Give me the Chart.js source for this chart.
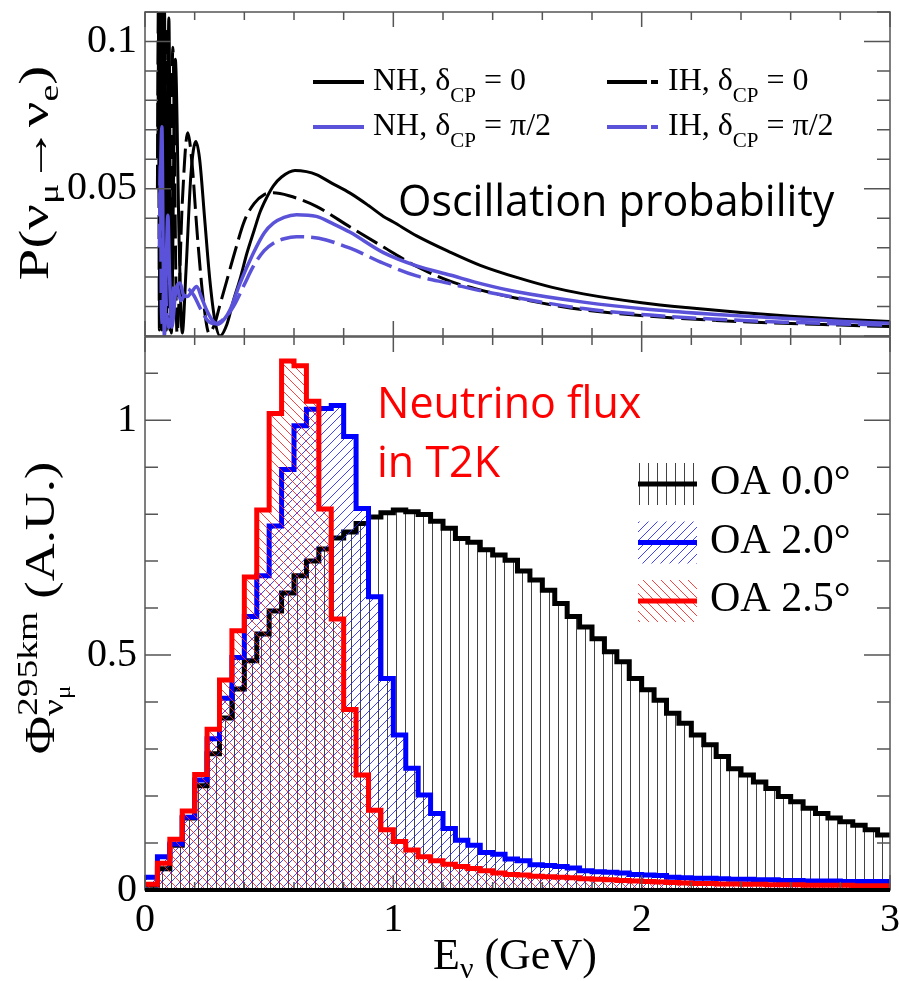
<!DOCTYPE html>
<html>
<head>
<meta charset="utf-8">
<title>T2K: oscillation probability and off-axis flux</title>
<script src="https://cdn.jsdelivr.net/npm/chart.js@4.4.1/dist/chart.umd.min.js"></script>
<style>
  html, body { margin: 0; background: #fff; }
  #wrap { position: relative; width: 899px; height: 981px; background: #fff; }
  #wrap canvas { position: absolute; left: 0; top: 0; }
  .warm { position: absolute; left: -9999px; top: 0; }
</style>
</head>
<body>
<div id="wrap">
  <canvas id="probChart" width="899" height="981"></canvas>
  <canvas id="fluxChart" width="899" height="981"></canvas>
</div>
<span class="warm" style="font-family: 'Liberation Serif'">0.05 νμ δ</span>
<span class="warm" style="font-family: 'Open Sans'">Oscillation</span>
<script>
const SERIF = '"Liberation Serif", "Times New Roman", Times, serif';
const SANS = '"Open Sans", "Noto Sans", sans-serif';

// P(numu -> nue) at 295 km, points are [E (GeV), P]
const nhZero = [
  [0.052, 0.060], [0.056, 0.115], [0.060, 0.004], [0.066, 0.116], [0.071, 0.003],
  [0.078, 0.114], [0.086, 0.002], [0.096, 0.108], [0.106, 0.001], [0.122, 0.094],
  [0.138, 0.030], [0.150, 0.001], [0.165, 0.022], [0.185, 0.055], [0.205, 0.066],
  [0.220, 0.060], [0.240, 0.040], [0.260, 0.020], [0.280, 0.006], [0.302, 0.000],
  [0.330, 0.004], [0.356, 0.012], [0.385, 0.020], [0.410, 0.028], [0.440, 0.036],
  [0.463, 0.042], [0.490, 0.047], [0.517, 0.051], [0.550, 0.054], [0.604, 0.0562],
  [0.650, 0.0558], [0.690, 0.0548], [0.750, 0.0520], [0.826, 0.0485], [0.900, 0.0443],
  [0.960, 0.0406], [1.000, 0.0387], [1.094, 0.0340], [1.228, 0.0285], [1.350, 0.0240],
  [1.500, 0.0198], [1.640, 0.0165], [1.765, 0.0143], [2.000, 0.0113], [2.200, 0.0095],
  [2.400, 0.0080], [2.600, 0.0067], [2.800, 0.0057], [3.000, 0.0049]
];
const ihZero = [
  [0.050, 0.050], [0.054, 0.114], [0.058, 0.002], [0.063, 0.117], [0.068, 0.002],
  [0.074, 0.110], [0.080, 0.002], [0.090, 0.104], [0.100, 0.002], [0.112, 0.098],
  [0.129, 0.001], [0.150, 0.045], [0.172, 0.069], [0.190, 0.058], [0.210, 0.035],
  [0.235, 0.012], [0.258, 0.001], [0.280, 0.004], [0.300, 0.010], [0.330, 0.019],
  [0.360, 0.028], [0.400, 0.039], [0.440, 0.045], [0.480, 0.048], [0.516, 0.0486],
  [0.580, 0.0476], [0.690, 0.0440], [0.826, 0.0370], [0.960, 0.0302], [1.094, 0.0236],
  [1.228, 0.0186], [1.360, 0.0154], [1.497, 0.0128], [1.765, 0.0089], [2.034, 0.0067],
  [2.300, 0.0053], [2.570, 0.0043], [2.800, 0.0037], [3.000, 0.0032]
];
const nhHalfPi = [
  [0.060, 0.045], [0.068, 0.071], [0.073, 0.030], [0.078, 0.000], [0.085, 0.022],
  [0.092, 0.041], [0.099, 0.020], [0.108, 0.003], [0.125, 0.016], [0.141, 0.018],
  [0.155, 0.014], [0.170, 0.0134], [0.188, 0.0150], [0.208, 0.0168], [0.228, 0.0130],
  [0.248, 0.0088], [0.270, 0.0055], [0.295, 0.0040], [0.320, 0.0058], [0.342, 0.0088],
  [0.383, 0.0180], [0.436, 0.0281], [0.480, 0.0350], [0.517, 0.0383], [0.560, 0.0403],
  [0.610, 0.0412], [0.690, 0.0406], [0.760, 0.0380], [0.826, 0.0352], [0.960, 0.0283],
  [1.094, 0.0238], [1.228, 0.0207], [1.360, 0.0176], [1.497, 0.0150], [1.765, 0.0115],
  [2.034, 0.0090], [2.300, 0.0073], [2.570, 0.0060], [2.800, 0.0050], [3.000, 0.0043]
];
const ihHalfPi = [
  [0.058, 0.030], [0.062, 0.058], [0.066, 0.010], [0.071, 0.004], [0.078, 0.028],
  [0.086, 0.010], [0.096, 0.003], [0.110, 0.014], [0.125, 0.018], [0.145, 0.012],
  [0.170, 0.016], [0.195, 0.014], [0.225, 0.009], [0.255, 0.005], [0.285, 0.0042],
  [0.320, 0.0060], [0.356, 0.0100], [0.400, 0.0175], [0.436, 0.0236], [0.480, 0.0290],
  [0.517, 0.0315], [0.560, 0.0330], [0.610, 0.0337], [0.700, 0.0332], [0.826, 0.0298],
  [0.960, 0.0247], [1.094, 0.0204], [1.228, 0.0178], [1.360, 0.0152], [1.497, 0.0130],
  [1.765, 0.0093], [2.034, 0.0071], [2.300, 0.0057], [2.570, 0.0047], [2.800, 0.0041],
  [3.000, 0.0037]
];
const probHier = ['NH', 'IH', 'NH', 'IH'];
const probCP = ['0', '0', 'π/2', 'π/2'];

// numu flux at Super-K, 60 bins of 0.05 GeV over 0-3 GeV
const fluxRange = [0, 3];
const oa00 = [
  0.010, 0.045, 0.095, 0.153, 0.222, 0.290, 0.366, 0.428, 0.488, 0.545,
  0.594, 0.632, 0.669, 0.700, 0.726, 0.749, 0.762, 0.780, 0.794, 0.803,
  0.809, 0.805, 0.799, 0.785, 0.770, 0.748, 0.740, 0.724, 0.713, 0.702,
  0.679, 0.660, 0.638, 0.610, 0.582, 0.560, 0.535, 0.507, 0.486, 0.450,
  0.426, 0.404, 0.376, 0.355, 0.330, 0.309, 0.284, 0.258, 0.245, 0.230,
  0.216, 0.199, 0.188, 0.174, 0.163, 0.153, 0.145, 0.138, 0.128, 0.117
];
const oa20 = [
  0.027, 0.071, 0.098, 0.155, 0.234, 0.322, 0.408, 0.495, 0.582, 0.669,
  0.775, 0.895, 0.988, 1.023, 1.025, 1.031, 0.965, 0.812, 0.624, 0.450,
  0.330, 0.259, 0.202, 0.163, 0.131, 0.106, 0.095, 0.080, 0.076, 0.066,
  0.062, 0.054, 0.052, 0.050, 0.047, 0.041, 0.039, 0.038, 0.036, 0.033,
  0.032, 0.031, 0.027, 0.026, 0.025, 0.025, 0.024, 0.023, 0.023, 0.022,
  0.022, 0.020, 0.020, 0.019, 0.019, 0.019, 0.018, 0.018, 0.018, 0.018
];
const oa25 = [
  0.012, 0.057, 0.108, 0.168, 0.246, 0.342, 0.447, 0.552, 0.666, 0.809,
  1.014, 1.126, 1.116, 1.040, 0.811, 0.577, 0.384, 0.245, 0.170, 0.128,
  0.103, 0.085, 0.071, 0.062, 0.055, 0.050, 0.046, 0.041, 0.036, 0.033,
  0.032, 0.029, 0.028, 0.027, 0.026, 0.024, 0.023, 0.022, 0.020, 0.019,
  0.018, 0.017, 0.016, 0.015, 0.014, 0.014, 0.013, 0.013, 0.012, 0.012,
  0.011, 0.011, 0.011, 0.010, 0.010, 0.010, 0.010, 0.009, 0.009, 0.009
];
const fluxLabels = ['OA 0.0°', 'OA 2.0°', 'OA 2.5°'];

const probTicks = [0.05, 0.1];
const probTickLabels = ['0.05', '0.1'];
const fluxTicks = [0, 0.5, 1];
const fluxTickLabels = ['0', '0.5', '1'];
const energyTicks = [0, 1, 2, 3];
const energyTickLabels = ['0', '1', '2', '3'];

// page layout of the two stacked panels
const W = 899, H = 981;
const AREA = { left: 145, right: 890, probTop: 12, probBottom: 336, fluxTop: 337, fluxBottom: 890 };
const CURVE_BLUE = '#5a52d8';

function makeHatch(kind, color, size) {
  const tile = document.createElement('canvas');
  tile.width = size; tile.height = size;
  const g = tile.getContext('2d');
  g.strokeStyle = color;
  g.lineWidth = 1;
  g.beginPath();
  if (kind === '|') {
    g.moveTo(0.5, 0); g.lineTo(0.5, size);
  } else if (kind === '/') {
    g.moveTo(0, size); g.lineTo(size, 0);
    g.moveTo(-1, 1); g.lineTo(1, -1);
    g.moveTo(size - 1, size + 1); g.lineTo(size + 1, size - 1);
  } else {
    g.moveTo(0, 0); g.lineTo(size, size);
    g.moveTo(size - 1, -1); g.lineTo(size + 1, 1);
    g.moveTo(-1, size - 1); g.lineTo(1, size + 1);
  }
  g.stroke();
  return g.createPattern(tile, 'repeat');
}

const hatchBlack = makeHatch('|', 'rgba(20,20,20,0.8)', 9);
const hatchBlue = makeHatch('/', 'rgba(30,30,255,0.85)', 9);
const hatchRed = makeHatch('\\', 'rgba(255,30,30,0.85)', 9);

function histPoints(values) {
  const w = (fluxRange[1] - fluxRange[0]) / values.length;
  const pts = values.map((v, i) => ({ x: fluxRange[0] + i * w, y: v }));
  pts.push({ x: fluxRange[1], y: values[values.length - 1] });
  return pts;
}

// text made of pieces: {t, size, dy, over, close}; "over" stacks the next pieces under it
function layoutPieces(ctx, pieces) {
  let x = 0, hold = null;
  const items = pieces.map(p => {
    ctx.font = `${p.size}px ${SERIF}`;
    const w = ctx.measureText(p.t).width;
    const item = { ...p, x };
    if (p.over) hold = x + w; else x += w;
    if (p.close && hold !== null) { x = Math.max(x, hold); hold = null; }
    return item;
  });
  return { items, width: x };
}

function drawPieces(ctx, pieces, x, y, opts = {}) {
  const { items, width } = layoutPieces(ctx, pieces);
  const stretch = opts.stretch || 1;
  ctx.save();
  if (opts.vertical) {
    ctx.translate(x, y + width * stretch / 2);
    ctx.rotate(-Math.PI / 2);
  } else {
    ctx.translate(x, y);
  }
  ctx.scale(stretch, 1);
  ctx.fillStyle = opts.color || '#000';
  ctx.textBaseline = 'alphabetic';
  ctx.textAlign = 'left';
  items.forEach(p => {
    ctx.font = `${p.size}px ${SERIF}`;
    ctx.fillText(p.t, p.x, p.dy || 0);
  });
  ctx.restore();
}

// frame plus ROOT-style inward ticks on all four sides
const framePlugin = {
  id: 'frame',
  afterDatasetsDraw(chart, args, opts) {
    const { ctx, chartArea: a, scales: { x, y } } = chart;
    ctx.save();
    ctx.strokeStyle = '#555';
    ctx.lineWidth = 1.5;
    ctx.strokeRect(a.left, a.top, a.right - a.left, a.bottom - a.top);
    ctx.beginPath();
    for (let k = 0; k <= 15; k++) {
      const px = x.getPixelForValue(k * 0.2);
      const len = k % 5 === 0 ? 15 : 8;
      ctx.moveTo(px, a.top); ctx.lineTo(px, a.top + len);
      ctx.moveTo(px, a.bottom); ctx.lineTo(px, a.bottom - len);
    }
    for (let k = 0; k * opts.yStep <= y.max + 1e-9; k++) {
      const py = y.getPixelForValue(k * opts.yStep);
      const len = k % opts.yMajor === 0 ? 26 : 13;
      ctx.moveTo(a.left, py); ctx.lineTo(a.left + len, py);
      ctx.moveTo(a.right, py); ctx.lineTo(a.right - len, py);
    }
    ctx.stroke();
    if (opts.heavyBase) {
      ctx.strokeStyle = '#000';
      ctx.lineWidth = 4;
      ctx.beginPath();
      ctx.moveTo(a.left, a.bottom); ctx.lineTo(a.right, a.bottom);
      ctx.stroke();
    }
    ctx.restore();
  }
};

const probTextPlugin = {
  id: 'probText',
  afterDraw(chart) {
    const ctx = chart.ctx;
    drawPieces(ctx, [
      { t: 'P(ν', size: 42 }, { t: 'μ', size: 28, dy: 10 },
      { t: '→', size: 42 }, { t: 'ν', size: 42 }, { t: 'e', size: 28, dy: 10 },
      { t: ')', size: 42 }
    ], 48, 173, { vertical: true, stretch: 1.35 });

    // legend, two columns
    probHier.forEach((h, i) => {
      const col = i % 2, row = Math.floor(i / 2);
      const ds = chart.data.datasets[i];
      const ly = 82 + row * 45;
      const x0 = col ? 607 : 313;
      ctx.save();
      ctx.strokeStyle = ds.borderColor;
      ctx.lineWidth = 4;
      ctx.setLineDash(ds.borderDash.length ? [40, 4, 7, 100] : []);
      ctx.beginPath();
      ctx.moveTo(x0, ly); ctx.lineTo(x0 + 51, ly);
      ctx.stroke();
      ctx.restore();
      drawPieces(ctx, [
        { t: h + ', δ', size: 32 }, { t: 'CP', size: 21, dy: 12 },
        { t: ' = ' + probCP[i], size: 32 }
      ], col ? 668 : 373, ly + 8);
    });

    ctx.save();
    ctx.fillStyle = '#000';
    ctx.font = `43px ${SANS}`;
    ctx.fillText('Oscillation probability', 398, 216);
    ctx.restore();
  }
};

const fluxTextPlugin = {
  id: 'fluxText',
  afterDraw(chart) {
    const ctx = chart.ctx;
    drawPieces(ctx, [
      { t: 'Φ', size: 42 },
      { t: '295km', size: 30, dy: -17, over: true },
      { t: 'ν', size: 30, dy: 9 }, { t: 'μ', size: 20, dy: 16, close: true },
      { t: ' (A.U.)', size: 42 }
    ], 54, 608, { vertical: true, stretch: 1.25 });

    drawPieces(ctx, [
      { t: 'E', size: 44 }, { t: 'ν', size: 30, dy: 9 }, { t: ' (GeV)', size: 44 }
    ], 433, 969);

    ctx.save();
    ctx.fillStyle = '#ff0000';
    ctx.font = `43px ${SANS}`;
    ctx.fillText('Neutrino flux', 377, 418);
    ctx.fillText('in T2K', 377, 477);
    ctx.restore();

    // legend: hatched swatch with the outline colour across it
    const sets = chart.data.datasets;
    [2, 1, 0].forEach((di, row) => {
      const ds = sets[di];
      const cy = 484 + row * 58.5;
      ctx.save();
      ctx.fillStyle = ds.backgroundColor;
      ctx.fillRect(638, cy - 21, 59, 42);
      ctx.strokeStyle = ds.borderColor;
      ctx.lineWidth = 5;
      ctx.beginPath();
      ctx.moveTo(638, cy); ctx.lineTo(697, cy);
      ctx.stroke();
      ctx.fillStyle = '#000';
      ctx.font = `42px ${SERIF}`;
      ctx.fillText(fluxLabels[row], 710, cy + 10);
      ctx.restore();
    });
  }
};

function fixedAxis(size, key) {
  return s => {
    s[key] = size;
    s.paddingTop = s.paddingBottom = s.paddingLeft = s.paddingRight = 0;
  };
}

function buildCharts() {
  const tickFont = { family: SERIF, size: 40 };

  new Chart(document.getElementById('probChart'), {
    type: 'line',
    data: {
      datasets: [nhZero, ihZero, nhHalfPi, ihHalfPi].map((pts, i) => ({
        data: pts.map(([x, y]) => ({ x, y })),
        borderColor: i < 2 ? '#000' : CURVE_BLUE,
        borderWidth: i < 2 ? 3 : 3.5,
        borderDash: i % 2 ? [24, 7] : [],
        cubicInterpolationMode: 'monotone',
        pointRadius: 0,
        fill: false,
        clip: 0,
        order: 3 - i
      }))
    },
    options: {
      responsive: false,
      animation: false,
      devicePixelRatio: 1,
      layout: { autoPadding: false, padding: { top: AREA.probTop, right: W - AREA.right, left: 0, bottom: H - AREA.probBottom - 2 } },
      plugins: { legend: { display: false }, tooltip: { enabled: false }, frame: { yStep: 0.01, yMajor: 5 } },
      scales: {
        x: {
          type: 'linear', min: fluxRange[0], max: fluxRange[1],
          grid: { display: false, drawTicks: false }, border: { display: false },
          ticks: { display: false },
          afterFit: fixedAxis(2, 'height')
        },
        y: {
          min: 0, max: 0.11,
          grid: { display: false, drawTicks: false }, border: { display: false },
          ticks: { font: tickFont, color: '#000', padding: 8, callback: (v, i) => probTickLabels[i] },
          afterBuildTicks: s => { s.ticks = probTicks.map(value => ({ value })); },
          afterFit: fixedAxis(AREA.left, 'width')
        }
      }
    },
    plugins: [framePlugin, probTextPlugin]
  });

  const fluxStyles = [
    { values: oa25, color: '#ff0000', hatch: hatchRed },
    { values: oa20, color: '#0000ff', hatch: hatchBlue },
    { values: oa00, color: '#000000', hatch: hatchBlack }
  ];

  new Chart(document.getElementById('fluxChart'), {
    type: 'line',
    data: {
      datasets: fluxStyles.map((s, i) => ({
        data: histPoints(s.values),
        stepped: true,
        borderColor: s.color,
        borderWidth: 5,
        backgroundColor: s.hatch,
        fill: 'origin',
        pointRadius: 0,
        order: i
      }))
    },
    options: {
      responsive: false,
      animation: false,
      devicePixelRatio: 1,
      layout: { autoPadding: false, padding: { top: AREA.fluxTop, right: W - AREA.right, left: 0, bottom: 0 } },
      plugins: { legend: { display: false }, tooltip: { enabled: false }, frame: { yStep: 0.1, yMajor: 5, heavyBase: true } },
      scales: {
        x: {
          type: 'linear', min: fluxRange[0], max: fluxRange[1],
          grid: { display: false, drawTicks: false }, border: { display: false },
          ticks: { font: tickFont, color: '#000', padding: 6, maxRotation: 0, callback: (v, i) => energyTickLabels[i] },
          afterBuildTicks: s => { s.ticks = energyTicks.map(value => ({ value })); },
          afterFit: fixedAxis(H - AREA.fluxBottom, 'height')
        },
        y: {
          min: 0, max: 1.177,
          grid: { display: false, drawTicks: false }, border: { display: false },
          ticks: { font: tickFont, color: '#000', padding: 8, callback: (v, i) => fluxTickLabels[i] },
          afterBuildTicks: s => { s.ticks = fluxTicks.map(value => ({ value })); },
          afterFit: fixedAxis(AREA.left, 'width')
        }
      }
    },
    plugins: [framePlugin, fluxTextPlugin]
  });
}

// make sure the system faces are resolved before the canvases are painted
Promise.all([
  document.fonts.load('40px "Liberation Serif"'),
  document.fonts.load('43px "Open Sans"')
]).catch(() => {}).then(buildCharts);
</script>
</body>
</html>
